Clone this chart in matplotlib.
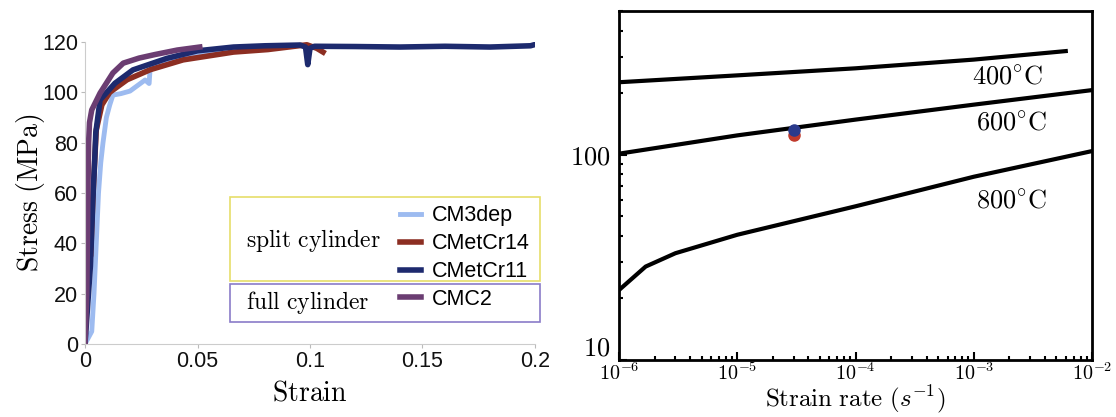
import numpy as np
import matplotlib.pyplot as plt
from matplotlib.patches import Rectangle
from matplotlib.ticker import FixedLocator, FuncFormatter, LogLocator, NullFormatter

plt.rcParams['mathtext.fontset'] = 'cm'
plt.rcParams['font.family'] = ['Liberation Sans', 'DejaVu Sans']

# ---- left panel: stress-strain curves ----
strain_cm3dep = [0, 0.003, 0.004, 0.005, 0.006, 0.007, 0.008, 0.0095, 0.011, 0.0124, 0.016,
                 0.02, 0.0267, 0.0285, 0.0289, 0.031, 0.035, 0.04, 0.05, 0.06]
stress_cm3dep = [0, 5, 20, 40, 60, 72, 80, 90, 95, 98.9, 99.5, 100.5, 104.9, 103.5, 108.9,
                 110, 112, 113.5, 115.5, 116.5]

strain_cmetcr14 = [0, 0.0006, 0.0025, 0.0036, 0.005, 0.0075, 0.011, 0.0187, 0.029, 0.0436,
                   0.066, 0.0813, 0.0986, 0.103, 0.1058]
stress_cmetcr14 = [0, 32, 35, 60, 85, 95, 100, 105, 109, 112.9, 116, 117, 118.9, 117.5, 116]

strain_cmetcr11 = [0, 0.0024, 0.0035, 0.0044, 0.0048, 0.0067, 0.0133, 0.0213, 0.0364, 0.05,
                   0.066, 0.08, 0.0956, 0.098, 0.099, 0.1, 0.102, 0.12, 0.14, 0.16, 0.18, 0.198, 0.2]
stress_cmetcr11 = [0, 31, 57, 75, 84, 97, 103.6, 108.9, 113.5, 116.5, 118, 118.5, 118.8, 118,
                   111, 117.5, 118.3, 118.2, 118, 118.3, 118, 118.5, 119]

strain_cmc2 = [0, 0.0008, 0.0013, 0.0016, 0.002, 0.003, 0.0067, 0.0124, 0.017, 0.024, 0.031,
               0.041, 0.051]
stress_cmc2 = [0, 20, 60, 80, 88, 93, 99.7, 107.7, 111.6, 113.6, 115, 116.8, 118]

labels_left = ['CM3dep', 'CMetCr14', 'CMetCr11', 'CMC2']
colors_left = ['#9dbbf0', '#8c2e22', '#1d2a6e', '#6b3d72']

# ---- right panel: strain rate vs stress ----
rate_400 = [1e-6, 1e-5, 1e-4, 1e-3, 6e-3]
stress_400 = [225, 243, 263, 290, 319]
rate_600 = [1e-6, 1e-5, 1e-4, 1e-3, 1e-2]
stress_600 = [101, 124, 148, 175, 206]
rate_800 = [1e-6, 1.68e-6, 3e-6, 1e-5, 1e-4, 1e-3, 1e-2]
stress_800 = [21.9, 28.5, 33.1, 40.7, 56, 78, 104]
point_rate = [3e-5, 3e-5]
point_stress = [124, 132]
point_colors = ['#c0392b', '#2a3a8c']

fig = plt.figure(figsize=(11.16, 4.17), dpi=100)

ax = fig.add_axes([85 / 1116, 73 / 417, 450 / 1116, 302 / 417])
ax.plot(strain_cm3dep, stress_cm3dep, color=colors_left[0], lw=3.5, label=labels_left[0])
ax.plot(strain_cmetcr14, stress_cmetcr14, color=colors_left[1], lw=4, label=labels_left[1])
ax.plot(strain_cmetcr11, stress_cmetcr11, color=colors_left[2], lw=4, label=labels_left[2])
ax.plot(strain_cmc2, stress_cmc2, color=colors_left[3], lw=4, label=labels_left[3])
ax.set_xlim(0, 0.2)
ax.set_ylim(0, 120)
ax.set_xticks([0, 0.05, 0.1, 0.15, 0.2])
ax.set_xticklabels(['0', '0.05', '0.1', '0.15', '0.2'])
ax.set_yticks([0, 20, 40, 60, 80, 100, 120])
ax.tick_params(labelsize=15.5, colors='#bbbbbb', labelcolor='#111111', length=3, width=0.8, pad=2)
for s in ['top', 'right']:
    ax.spines[s].set_visible(False)
for s in ['left', 'bottom']:
    ax.spines[s].set_color('#cccccc')
    ax.spines[s].set_linewidth(0.8)
ax.set_xlabel(r'$\mathrm{Strain}$', fontsize=20, labelpad=6)
ax.set_ylabel(r'$\mathrm{Stress\ (MPa)}$', fontsize=20, labelpad=-4)

# grouped legend
ax.add_patch(Rectangle((0.322, 0.209), 0.689, 0.278, transform=ax.transAxes, fill=False,
                       edgecolor='#e6de6a', lw=1.2, clip_on=False))
ax.add_patch(Rectangle((0.322, 0.073), 0.689, 0.126, transform=ax.transAxes, fill=False,
                       edgecolor='#8a7cc8', lw=1.2, clip_on=False))
ax.text(0.358, 0.344, r'$\mathrm{split\ cylinder}$', transform=ax.transAxes, fontsize=17,
        va='center', ha='left')
ax.text(0.358, 0.136, r'$\mathrm{full\ cylinder}$', transform=ax.transAxes, fontsize=17,
        va='center', ha='left')
ax.legend(loc='upper left', bbox_to_anchor=(0.675, 0.495), frameon=False, fontsize=15.5,
          handlelength=1.0, handletextpad=0.5, labelspacing=0.32, borderpad=0)

# right panel
ax2 = fig.add_axes([619 / 1116, 57 / 417, 473 / 1116, 349 / 417])
ax2.plot(rate_400, stress_400, color='black', lw=3)
ax2.plot(rate_600, stress_600, color='black', lw=3)
ax2.plot(rate_800, stress_800, color='black', lw=3)
for r, s, c in zip(point_rate, point_stress, point_colors):
    ax2.plot(r, s, 'o', color=c, ms=8, zorder=5)
ax2.set_xscale('log')
ax2.set_yscale('log')
ax2.set_xlim(1e-6, 1e-2)
ax2.set_ylim(10, 500)
ax2.text(1.95e-3, 240, r'$400^{\circ}\mathrm{C}$', fontsize=19, ha='center', va='center')
ax2.text(2.1e-3, 143, r'$600^{\circ}\mathrm{C}$', fontsize=19, ha='center', va='center')
ax2.text(2.1e-3, 60, r'$800^{\circ}\mathrm{C}$', fontsize=19, ha='center', va='center')

ax2.yaxis.set_major_locator(FixedLocator([10, 100]))
ax2.yaxis.set_major_formatter(FuncFormatter(lambda v, p: r'$%d$' % v))
ax2.yaxis.set_minor_locator(LogLocator(base=10, subs=np.arange(2, 10)))
ax2.yaxis.set_minor_formatter(NullFormatter())
ax2.xaxis.set_major_locator(FixedLocator([1e-6, 1e-5, 1e-4, 1e-3, 1e-2]))
ax2.xaxis.set_major_formatter(FuncFormatter(lambda v, p: r'$10^{%d}$' % round(np.log10(v))))
ax2.xaxis.set_minor_locator(LogLocator(base=10, subs=np.arange(2, 10)))
ax2.xaxis.set_minor_formatter(NullFormatter())
ax2.tick_params(which='both', direction='in', width=1.5, top=False, right=False)
ax2.tick_params(which='major', length=6, labelsize=19, pad=6)
ax2.tick_params(axis='x', which='major', labelsize=14.5, pad=2)
ax2.tick_params(which='minor', length=3)
for s in ax2.spines.values():
    s.set_linewidth(2)
ax2.set_xlabel(r'$\mathrm{Strain\ rate\ }(s^{-1})$', fontsize=18, labelpad=-1)

fig.canvas.draw()
ax2.get_yticklabels()[0].set_va('bottom')

plt.savefig('out.png', dpi=100)
